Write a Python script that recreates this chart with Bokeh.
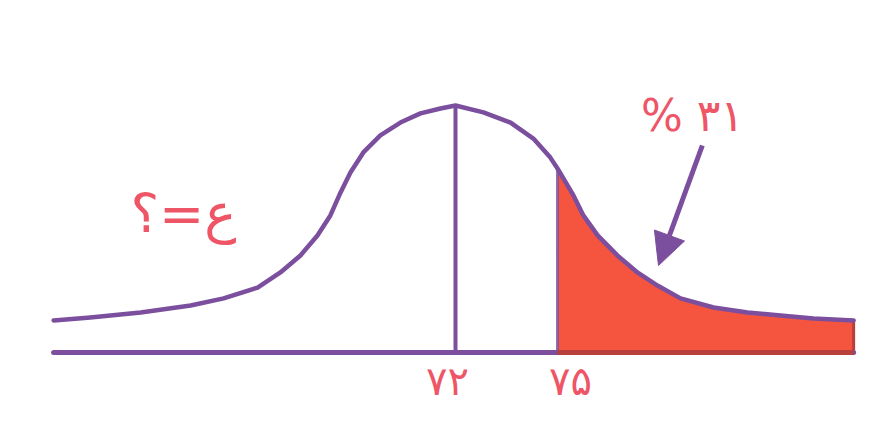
from bokeh.plotting import figure
from bokeh.models import ColumnDataSource, Range1d, Arrow, NormalHead, Label
from bokeh.embed import file_html
from bokeh.resources import INLINE
from bokeh.core.properties import value

# ---- data ----
curve_x = [60.18, 61.26, 62.74, 64.21, 65.18, 66.18, 66.85, 67.44, 67.94, 68.32,
           68.62, 68.91, 69.29, 69.79, 70.38, 70.97, 71.56, 72.00, 72.82, 73.62,
           74.29, 74.79, 75.00, 75.47, 75.76, 76.18, 76.76, 77.35, 77.94, 78.62,
           79.59, 80.59, 81.56, 82.53, 83.71]
curve_y = [0.130, 0.142, 0.162, 0.190, 0.219, 0.263, 0.324, 0.393, 0.474, 0.555,
           0.648, 0.729, 0.810, 0.879, 0.931, 0.968, 0.988, 1.000, 0.972, 0.931,
           0.866, 0.789, 0.745, 0.636, 0.555, 0.474, 0.393, 0.324, 0.271, 0.219,
           0.182, 0.162, 0.150, 0.138, 0.130]
mean_value = 72
cut_value = 75
tick_values = [72, 75]
tick_labels = ["۷۲", "۷۵"]
tail_label = "% ۳۱"
sigma_label = "ع=؟"

PURPLE = "#7b4f9e"
RED = "#f5553f"
DARK_RED = "#b8403a"
PINK = "#ee5566"

p = figure(width=860, height=405, output_backend="svg", toolbar_location=None,
           x_range=Range1d(58.618, 83.912), y_range=Range1d(-0.2146, 1.4251),
           min_border=0)
p.axis.visible = False
p.grid.visible = False
p.outline_line_color = None
p.background_fill_color = "white"
p.border_fill_color = "white"

# shaded tail
tail_x = [x for x in curve_x if x >= cut_value]
tail_y = [y for x, y in zip(curve_x, curve_y) if x >= cut_value]
p.varea(x=tail_x, y1=[0] * len(tail_x), y2=tail_y, fill_color=RED)
p.segment(x0=[curve_x[-1]], y0=[0], x1=[curve_x[-1]], y1=[curve_y[-1]],
          line_color=DARK_RED, line_width=3)
p.segment(x0=[cut_value], y0=[0], x1=[cut_value], y1=[tail_y[0]],
          line_color=PURPLE, line_width=3, line_alpha=0.8)

# baseline
p.segment(x0=[curve_x[0]], y0=[0], x1=[curve_x[-1]], y1=[0],
          line_color=PURPLE, line_width=5, line_cap="round")
p.segment(x0=[cut_value], y0=[0], x1=[curve_x[-1]], y1=[0],
          line_color=DARK_RED, line_width=5)

# mean line
p.segment(x0=[mean_value], y0=[0], x1=[mean_value], y1=[max(curve_y)],
          line_color=PURPLE, line_width=4)

# curve
p.line(curve_x, curve_y, line_color=PURPLE, line_width=4.5, line_join="round",
       line_cap="round")

# tick labels
src = ColumnDataSource(dict(x=tick_values, y=[-0.117, -0.117], t=tick_labels,
                            dx=[-8, 13]))
p.text(x="x", y="y", text="t", source=src, text_font=value("DejaVu Sans"),
       text_font_size="40px", text_color=PINK, text_align="center",
       text_baseline="middle", x_offset="dx")

# arrow and labels
p.add_layout(Arrow(x_start=79.26, y_start=0.838, x_end=77.97, y_end=0.352,
                   line_color=PURPLE, line_width=5,
                   end=NormalHead(size=32, fill_color=PURPLE, line_color=PURPLE)))
p.add_layout(Label(x=78.97, y=0.96, text=tail_label, text_font="DejaVu Sans",
                   text_font_size="44px", text_color=PINK, text_align="center",
                   text_baseline="middle"))
p.add_layout(Label(x=64.0, y=0.563, text=sigma_label, text_font="DejaVu Sans",
                   text_font_size="54px", text_color=PINK, text_align="center",
                   text_baseline="middle"))

open("out.html", "w").write(file_html(p, INLINE))
